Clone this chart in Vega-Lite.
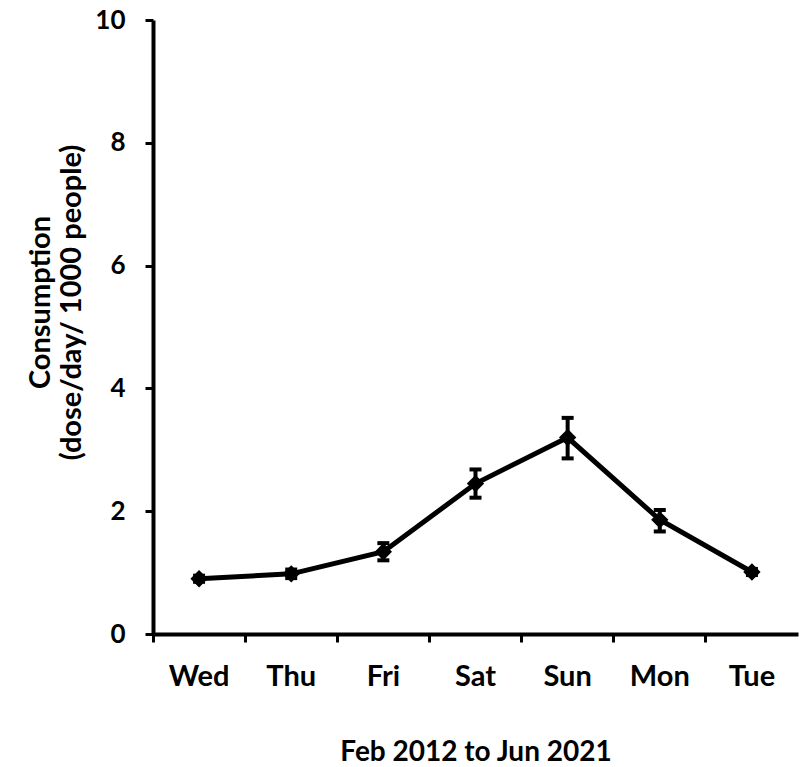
{
  "$schema": "https://vega.github.io/schema/vega-lite/v6.json",
  "width": 645,
  "height": 614,
  "autosize": {"type": "none"},
  "padding": {"left": 153, "top": 20, "right": 2, "bottom": 133},
  "background": "white",
  "config": {
    "view": {"stroke": null},
    "font": "Lato",
    "axis": {
      "domainColor": "black", "domainWidth": 4, "tickColor": "black", "tickWidth": 3, "tickSize": 8,
      "labelFont": "Lato", "labelFontWeight": "bold", "labelFontSize": 29, "labelColor": "black",
      "titleFont": "Lato", "titleFontWeight": "bold", "titleColor": "black", "grid": false
    }
  },
  "data": {"values": [
    {"day": "Wed", "value": 0.90, "lo": 0.85, "hi": 0.95},
    {"day": "Thu", "value": 0.98, "lo": 0.91, "hi": 1.05},
    {"day": "Fri", "value": 1.34, "lo": 1.20, "hi": 1.48},
    {"day": "Sat", "value": 2.45, "lo": 2.22, "hi": 2.68},
    {"day": "Sun", "value": 3.20, "lo": 2.86, "hi": 3.52},
    {"day": "Mon", "value": 1.86, "lo": 1.67, "hi": 2.02},
    {"day": "Tue", "value": 1.01, "lo": 0.96, "hi": 1.06}
  ]},
  "encoding": {
    "x": {"field": "day", "type": "nominal", "sort": null,
      "scale": {"paddingInner": 0, "paddingOuter": 0},
      "axis": {"title": "Feb 2012 to Jun 2021", "titleFontSize": 28, "titlePadding": 47, "labelAngle": 0, "labelPadding": 20, "bandPosition": 0}
    }
  },
  "layer": [
    {"mark": {"type": "line", "color": "black", "strokeWidth": 5},
     "encoding": {"y": {"field": "value", "type": "quantitative",
        "scale": {"domain": [0, 10], "nice": false},
        "axis": {"values": [0, 2, 4, 6, 8, 10], "format": "d", "labelFontSize": 26, "labelPadding": 20, "title": ["Consumption", "(dose/day/ 1000 people)"], "titleFontSize": 29, "titlePadding": 8, "titleLineHeight": 31, "titleY": 282}}}},
    {"mark": {"type": "rule", "color": "black", "strokeWidth": 4},
     "encoding": {"y": {"field": "lo", "type": "quantitative"}, "y2": {"field": "hi"}}},
    {"mark": {"type": "tick", "color": "black", "thickness": 4, "size": 12, "opacity": 1},
     "encoding": {"y": {"field": "lo", "type": "quantitative"}}},
    {"mark": {"type": "tick", "color": "black", "thickness": 4, "size": 12, "opacity": 1},
     "encoding": {"y": {"field": "hi", "type": "quantitative"}}},
    {"mark": {"type": "point", "shape": "diamond", "filled": true, "color": "black", "size": 300, "opacity": 1},
     "encoding": {"y": {"field": "value", "type": "quantitative"}}}
  ]
}
